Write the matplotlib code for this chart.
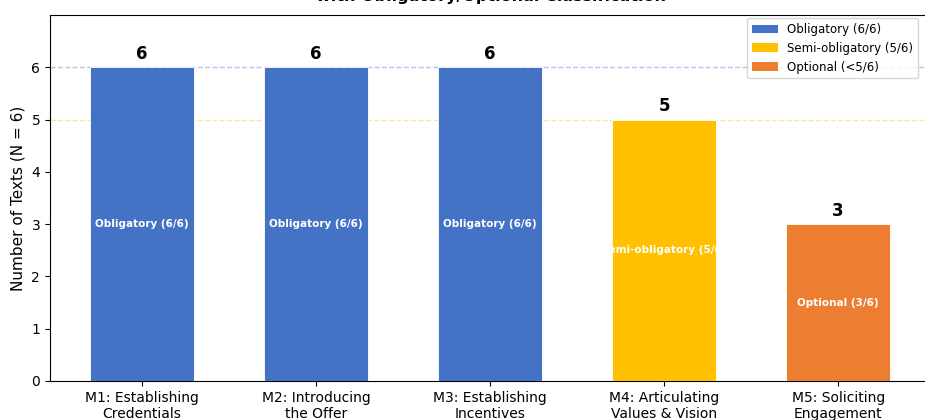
import matplotlib
matplotlib.use("Agg")
import matplotlib.pyplot as plt
from matplotlib.patches import Patch

# Moves and how many of the six texts contain each one
moves = [
    "M1: Establishing\nCredentials",
    "M2: Introducing\nthe Offer",
    "M3: Establishing\nIncentives",
    "M4: Articulating\nValues & Vision",
    "M5: Soliciting\nEngagement",
]
counts = [6, 6, 6, 5, 3]
status = ["Obligatory", "Obligatory", "Obligatory", "Semi-obligatory", "Optional"]
total_texts = 6

palette = {
    "Obligatory": "#4472C4",
    "Semi-obligatory": "#FFC000",
    "Optional": "#ED7D31",
}
legend_labels = ["Obligatory (6/6)", "Semi-obligatory (5/6)", "Optional (<5/6)"]

fig = plt.figure(figsize=(9.25, 4.2), dpi=100)
ax = fig.add_axes([0.054, 0.093, 0.965, 0.871])

x = list(range(len(moves)))
colors = [palette[s] for s in status]
bars = ax.bar(x, counts, width=0.6, color=colors, edgecolor="white", linewidth=0.6, zorder=3)

# Threshold reference lines
ax.axhline(6, color=palette["Obligatory"], linestyle="--", linewidth=1, alpha=0.4, zorder=1)
ax.axhline(5, color=palette["Semi-obligatory"], linestyle="--", linewidth=1, alpha=0.4, zorder=1)

for bar, c, s in zip(bars, counts, status):
    cx = bar.get_x() + bar.get_width() / 2
    ax.text(cx, c + 0.08, str(c), ha="center", va="bottom",
            fontsize=12, fontweight="bold", zorder=4)
    ax.text(cx, c / 2, f"{s} ({c}/{total_texts})", ha="center", va="center",
            fontsize=7.5, fontweight="bold", color="white", zorder=4)

ax.set_xticks(x)
ax.set_xticklabels(moves, fontsize=10)
ax.set_xlim(-0.53, 4.6)
ax.set_ylim(0, 7)
ax.set_yticks(range(0, 7))
ax.tick_params(axis="y", labelsize=10)
ax.set_ylabel("Number of Texts (N = 6)", fontsize=11)
ax.set_title("Distribution of Rhetorical Moves Across Texts\n"
             "with Obligatory/Optional Classification",
             fontsize=11.5, fontweight="bold", pad=10, x=0.494)

handles = [Patch(facecolor=palette[k]) for k in palette]
ax.legend(handles, legend_labels, loc="upper right", fontsize=8.5,
          handlelength=2.2, bbox_to_anchor=(0.976, 1.0), borderaxespad=0.25)

fig.savefig("out.png", dpi=100)
